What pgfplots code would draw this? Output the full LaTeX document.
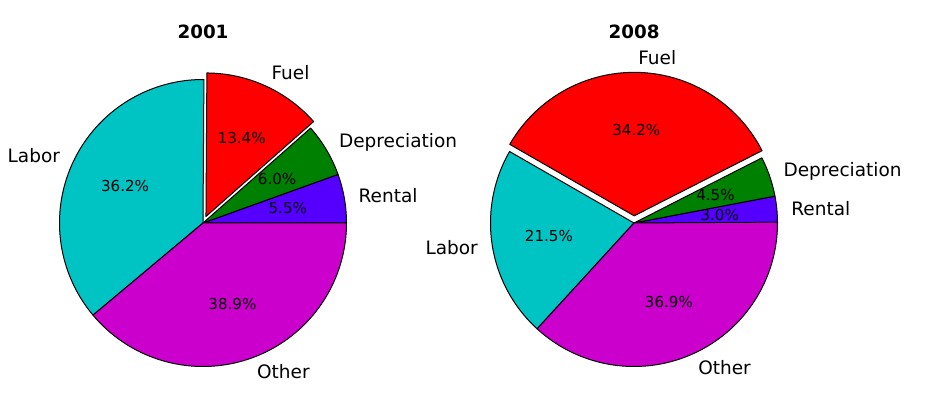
\documentclass[border=0pt]{standalone}
\usepackage{fontspec}
\setmainfont{DejaVu Sans}
\usepackage{pgfplots}
\pgfplotsset{compat=1.18}
\definecolor{crental}{RGB}{85,0,255}
\definecolor{cdep}{RGB}{0,128,0}
\definecolor{cfuel}{RGB}{255,0,0}
\definecolor{clabor}{RGB}{0,196,196}
\definecolor{cother}{RGB}{204,0,204}
\newcommand{\namefont}{\fontsize{18.5}{21}\selectfont}
\newcommand{\pctfont}{\fontsize{15.1}{18}\selectfont}
\newcommand{\titfont}{\bfseries\fontsize{18.3}{21}\selectfont}
\def\R{143.5}
% #1 cx, #2 cy, #3 start (%), #4 value (%), #5 colour, #6 explode, #7 label
\newcommand{\slice}[7]{%
 \pgfmathsetmacro\sa{#3*3.6}%
 \pgfmathsetmacro\sb{(#3+#4)*3.6}%
 \pgfmathsetmacro\sm{(\sa+\sb)/2}%
 \pgfmathsetmacro\ox{#1+#6*\R*cos(\sm)}%
 \pgfmathsetmacro\oy{#2+#6*\R*sin(\sm)}%
 \pgfmathsetmacro\lx{\ox+1.1*\R*cos(\sm)}%
 \pgfmathsetmacro\ly{\oy+1.1*\R*sin(\sm)}%
 \pgfmathsetmacro\px{\ox+0.6*\R*cos(\sm)}%
 \pgfmathsetmacro\py{\oy+0.6*\R*sin(\sm)}%
 \pgfmathsetmacro\cs{cos(\sm)}%
 \ifdim\cs pt>0pt \def\anc{west}\else\def\anc{east}\fi
 \edef\tmp{%
  \noexpand\addplot[draw=black,line width=1pt,line join=round,fill=#5,domain=\sa:\sb,samples=90]
   ({\ox+\R*cos(x)},{\oy+\R*sin(x)}) -- (axis cs:\ox,\oy) -- cycle;
  \noexpand\node[font=\noexpand\namefont,inner sep=0pt,anchor=\anc] at (axis cs:\lx,\ly) {#7};
  \noexpand\node[font=\noexpand\pctfont,inner sep=0pt] at (axis cs:\px,\py) {#4\noexpand\%};
 }\tmp
}
\begin{document}
\begin{tikzpicture}
\begin{axis}[width=929pt,height=394pt,scale only axis,
  xmin=0,xmax=929,ymin=0,ymax=394,hide axis,clip=false]
% 2001
\slice{203}{171}{0}{5.5}{crental}{0}{Rental}
\slice{203}{171}{5.5}{6.0}{cdep}{0}{Depreciation}
\slice{203}{171}{11.5}{13.4}{cfuel}{0.05}{Fuel}
\slice{203}{171}{24.9}{36.2}{clabor}{0}{Labor}
\slice{203}{171}{61.1}{38.9}{cother}{0}{Other}
% 2008
\slice{634}{171}{0}{3.0}{crental}{0}{Rental}
\slice{634}{171}{3.0}{4.5}{cdep}{0}{Depreciation}
\slice{634}{171}{7.5}{34.2}{cfuel}{0.05}{Fuel}
\slice{634}{171}{41.7}{21.5}{clabor}{0}{Labor}
\slice{634}{171}{63.2}{36.9}{cother}{0}{Other}
\node[font=\titfont,inner sep=0pt] at (axis cs:203,362) {2001};
\node[font=\titfont,inner sep=0pt] at (axis cs:634,362) {2008};
\end{axis}
\pgfresetboundingbox
\useasboundingbox (0,0) rectangle (929pt,394pt);
\end{tikzpicture}
\end{document}
